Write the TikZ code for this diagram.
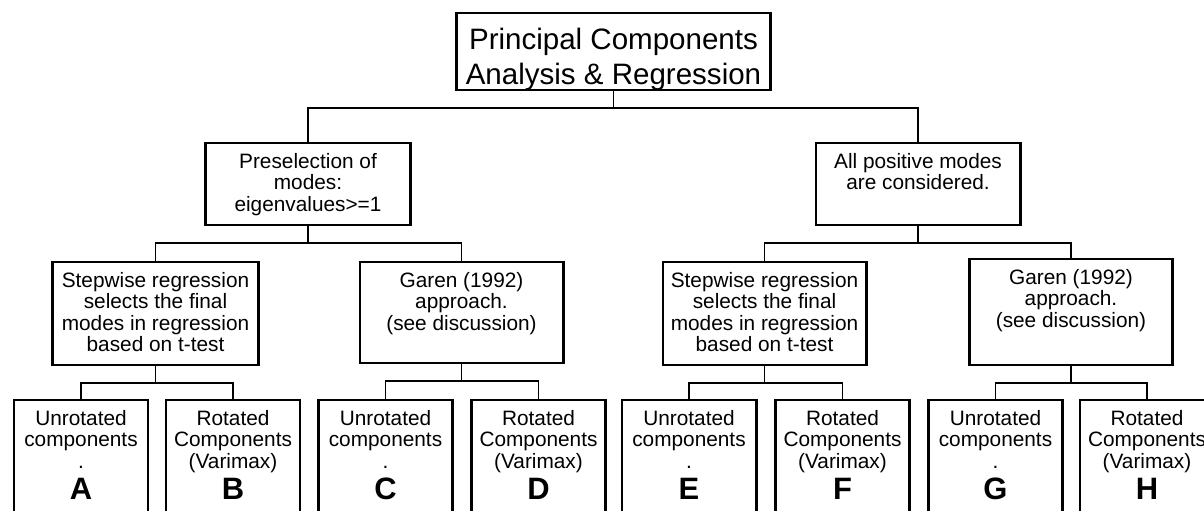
\documentclass[tikz,border=0pt]{standalone}
\usepackage{fontspec}
\setmainfont{Liberation Sans}
\usepackage{tikz}
\newcommand{\boxfont}{\fontsize{14.8}{15.3}\selectfont}
\newcommand{\titlefont}{\fontsize{21}{25}\selectfont}
\newcommand{\leafletter}[1]{{\fontsize{22}{22}\selectfont\bfseries #1}}
\newcommand{\unrot}[1]{Unrotated\\components\\.\vphantom{(Varimax)}\\[3pt]\leafletter{#1}}
\newcommand{\rot}[1]{Rotated\\Components\\(Varimax)\\[3pt]\leafletter{#1}}
\newcommand{\stepwisetext}{Stepwise regression\\selects the final\\modes in regression\\based on t-test}
\newcommand{\garentext}{Garen (1992)\\approach.\\(see discussion)}
\tikzstyle{block}=[draw, line width=2.1pt, inner sep=0, outer sep=0]
\tikzstyle{btext}=[anchor=north, inner sep=0, align=center, font=\boxfont, yshift=-7pt]
\tikzstyle{leaf}=[block, minimum width=3.35cm, minimum height=3.25cm]
\tikzstyle{link}=[line width=1.4pt]
\tikzstyle{chart}=[x=0.025cm, y=-0.025cm]

\begin{document}
\begin{tikzpicture}[chart]
    \useasboundingbox (0, 0) rectangle (1204, 511);
    \clip (0, 0) rectangle (1204, 511);
    % top
    \node[block, minimum width=7.825cm, minimum height=1.925cm,
          label={[btext, font=\titlefont, yshift=-3.6pt]north:Principal Components\\Analysis \& Regression}] (pca) at (613.5, 51.5) {};
    % second row
    \node[block, minimum width=5.1cm, minimum height=2.05cm,
          label={[btext]north:Preselection of\\modes:\\eigenvalues>=1}] (pre) at (308, 184) {};
    \node[block, minimum width=5.1cm, minimum height=2.05cm,
          label={[btext]north:All positive modes\\are considered.}] (all) at (918, 184) {};
    % third row
    \node[block, minimum width=5.125cm, minimum height=2.575cm,
          label={[btext]north:\stepwisetext}] (stepL) at (155.5, 313.5) {};
    \node[block, minimum width=5.075cm, minimum height=2.525cm,
          label={[btext]north:\garentext}] (garL) at (461.5, 312.5) {};
    \node[block, minimum width=5.075cm, minimum height=2.575cm,
          label={[btext]north:\stepwisetext}] (stepR) at (764.5, 313.5) {};
    \node[block, minimum width=5.075cm, minimum height=2.65cm,
          label={[btext]north:\garentext}] (garR) at (1071, 312) {};
    % leaves
    \node[leaf, label={[btext]north:\unrot{A}}] (A) at (81, 465) {};
    \node[leaf, label={[btext]north:\rot{B}}] (B) at (233, 465) {};
    \node[leaf, label={[btext]north:\unrot{C}}] (C) at (385.5, 465) {};
    \node[leaf, label={[btext]north:\rot{D}}] (D) at (538.5, 465) {};
    \node[leaf, label={[btext]north:\unrot{E}}] (E) at (689, 465) {};
    \node[leaf, label={[btext]north:\rot{F}}] (F) at (842.5, 465) {};
    \node[leaf, label={[btext]north:\unrot{G}}] (G) at (995.5, 465) {};
    \node[leaf, label={[btext]north:\rot{H}}] (H) at (1147, 465) {};
    % connectors
    \draw[link] (pca.south) -- ++(0, 18) -| (pre.north);
    \draw[link] (pca.south) -- ++(0, 18) -| (all.north);
    \draw[link] (pre.south) -- ++(0, 18) -| (stepL.north);
    \draw[link] (pre.south) -- ++(0, 18) -| (garL.north);
    \draw[link] (all.south) -- ++(0, 18) -| (stepR.north);
    \draw[link] (all.south) -- ++(0, 18) -| (garR.north);
    \draw[link] (stepL.south) -- ++(0, 18) -| (A.north);
    \draw[link] (stepL.south) -- ++(0, 18) -| (B.north);
    \draw[link] (garL.south) -- ++(0, 18) -| (C.north);
    \draw[link] (garL.south) -- ++(0, 18) -| (D.north);
    \draw[link] (stepR.south) -- ++(0, 18) -| (E.north);
    \draw[link] (stepR.south) -- ++(0, 18) -| (F.north);
    \draw[link] (garR.south) -- ++(0, 18) -| (G.north);
    \draw[link] (garR.south) -- ++(0, 18) -| (H.north);
\end{tikzpicture}
\end{document}
